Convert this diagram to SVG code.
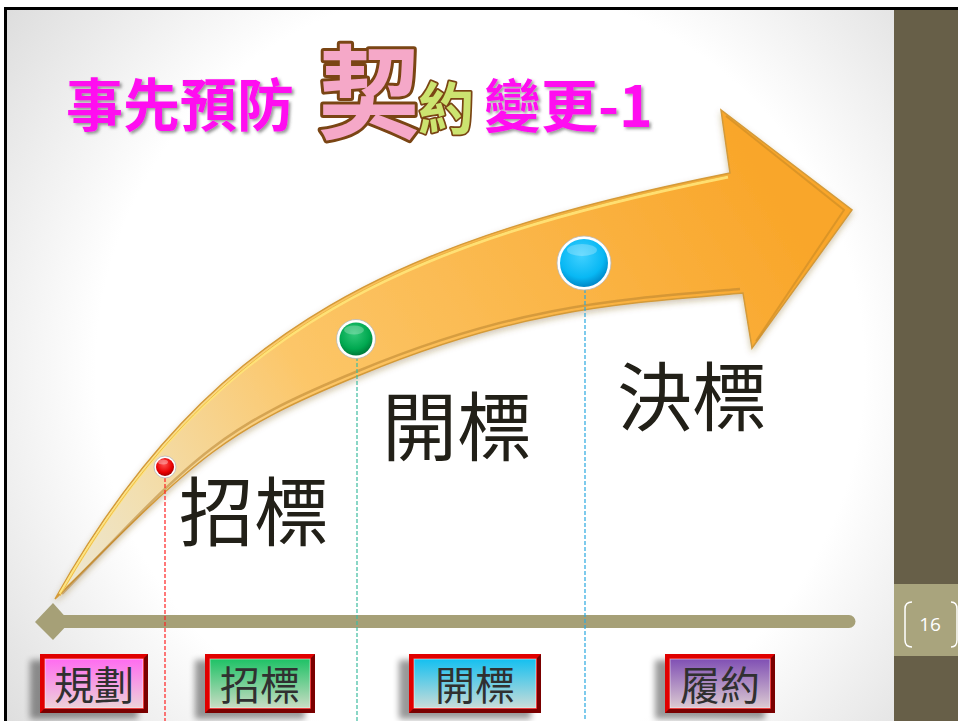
<svg xmlns="http://www.w3.org/2000/svg" width="958" height="721" viewBox="0 0 958 721">
<defs>
<radialGradient id="bg" cx="480" cy="370" r="640" gradientUnits="userSpaceOnUse">
<stop offset="0.6" stop-color="#ffffff"/><stop offset="1" stop-color="#d6d6d6"/>
</radialGradient>
<linearGradient id="arrowG" x1="60" y1="600" x2="760" y2="170" gradientUnits="userSpaceOnUse">
<stop offset="0" stop-color="#ebe7d6"/><stop offset="0.15" stop-color="#f2dfb0"/><stop offset="0.4" stop-color="#fcc668"/><stop offset="1" stop-color="#f9a62a"/>
</linearGradient>
<radialGradient id="gRed" cx="0.45" cy="0.35" r="0.65"><stop offset="0" stop-color="#ff5050"/><stop offset="0.7" stop-color="#e80000"/><stop offset="1" stop-color="#a00000"/></radialGradient>
<radialGradient id="gGreen" cx="0.45" cy="0.35" r="0.65"><stop offset="0" stop-color="#30c878"/><stop offset="0.7" stop-color="#00a850"/><stop offset="1" stop-color="#007a38"/></radialGradient>
<radialGradient id="gBlue" cx="0.45" cy="0.35" r="0.65"><stop offset="0" stop-color="#40d0ff"/><stop offset="0.7" stop-color="#08b8f4"/><stop offset="1" stop-color="#0088c8"/></radialGradient>
<linearGradient id="bPink" x1="0" y1="0" x2="0" y2="1"><stop offset="0" stop-color="#ff6cf0"/><stop offset="1" stop-color="#ecd2d8"/></linearGradient>
<linearGradient id="bGreen" x1="0" y1="0" x2="0" y2="1"><stop offset="0" stop-color="#1ec266"/><stop offset="1" stop-color="#cadcc4"/></linearGradient>
<linearGradient id="bCyan" x1="0" y1="0" x2="0" y2="1"><stop offset="0" stop-color="#14c0f0"/><stop offset="1" stop-color="#cadcd8"/></linearGradient>
<linearGradient id="bPurple" x1="0" y1="0" x2="0" y2="1"><stop offset="0" stop-color="#8050b4"/><stop offset="1" stop-color="#dccad2"/></linearGradient>
<filter id="blur" x="-20%" y="-20%" width="140%" height="140%"><feGaussianBlur stdDeviation="3"/></filter>
<filter id="tsh" x="-10%" y="-10%" width="130%" height="130%"><feDropShadow dx="2" dy="2" stdDeviation="1.5" flood-color="#555" flood-opacity="0.6"/></filter>
<filter id="ash" x="-10%" y="-10%" width="130%" height="130%"><feDropShadow dx="0" dy="3" stdDeviation="3" flood-color="#7a5a20" flood-opacity="0.35"/></filter>
<style>
.big{font-family:"Noto Sans CJK TC","Noto Sans CJK SC",sans-serif;font-weight:400;fill:#222018;font-size:75px}
.title{font-family:"Noto Sans CJK TC","Noto Sans CJK SC",sans-serif;font-weight:700;fill:#ff10f0}
.blabel{font-family:"Noto Sans CJK TC","Noto Sans CJK SC",sans-serif;font-weight:400;fill:#303030;font-size:40px;text-anchor:middle}
.dash{stroke-width:1.2;stroke-dasharray:4 2;fill:none}
.ring{fill:#ffffff;stroke:#b8b8b8;stroke-width:0.8}
.frame{fill:#e00000}
.frameD{fill:#7a0000}
.shadow{fill:#000;opacity:0.4;filter:url(#blur)}
</style>
</defs>
<rect x="0" y="0" width="958" height="721" fill="#ffffff"/>
<rect x="7" y="10" width="887" height="711" fill="url(#bg)"/>
<rect x="4" y="7" width="954" height="3" fill="#000"/>
<rect x="4" y="7" width="3" height="714" fill="#000"/>
<g id="sidepanel">
<rect x="894" y="10" width="64" height="711" fill="#675f48"/>
<rect x="894" y="584" width="64" height="72" fill="#a9a47d"/>
<path d="M912,602 Q905,602 905,609 L905,640 Q905,647 912,647" fill="none" stroke="#fff" stroke-width="1.5"/>
<path d="M951,602 Q957,602 957,609 L957,640 Q957,647 951,647" fill="none" stroke="#fff" stroke-width="1.5"/>
<text x="930" y="631" font-family="'Open Sans','Liberation Sans',sans-serif" font-size="19" fill="#ffffff" text-anchor="middle">16</text>
</g>
<g id="title">
<text class="title" x="66" y="126" font-size="57" filter="url(#tsh)">事先預防</text>
<text x="318" y="131" font-family="'Noto Sans CJK TC','Noto Sans CJK SC',sans-serif" font-weight="700" font-size="102" fill="#f5a8c8" stroke="#7a4514" stroke-width="6" paint-order="stroke" stroke-linejoin="round">契</text>
<text x="418" y="129" font-family="'Noto Sans CJK TC','Noto Sans CJK SC',sans-serif" font-weight="700" font-size="56" fill="#cce470" stroke="#7a4514" stroke-width="3.5" paint-order="stroke" stroke-linejoin="round">約</text>
<text class="title" x="484" y="127" font-size="57" filter="url(#tsh)">變更-1</text>
</g>
<g id="axis">
<line x1="60" y1="621.5" x2="849" y2="621.5" stroke="#a6a077" stroke-width="13" stroke-linecap="round"/>
<polygon points="35,622 53,603 70,622 53,640" fill="#a6a077"/>
</g>
<g id="arrow" filter="url(#ash)">
<path d="M55,599 C212,319 407,238 730,173 L721,110 L852,210 L752,348 L743,293 C613.5,303.9 517,310 360,375 C221,432 200,455 55,599 Z" fill="url(#arrowG)" stroke="#d49a38" stroke-width="1.5" stroke-linejoin="miter"/>
<path d="M60,594 C215,324 409,242 728,177" fill="none" stroke="#ffe478" stroke-width="3" opacity="0.9"/>
<path d="M60,596 C215,322 409,240 729,175" fill="none" stroke="#e8b040" stroke-width="1" opacity="0.8"/>
<path d="M740,289 C612,300 515,306 358,371 C219,428 198,452 62,594" fill="none" stroke="#b88430" stroke-width="2.5" opacity="0.55"/>
<path d="M726,116 L844,210 L756,341" fill="none" stroke="#c88a28" stroke-width="2" opacity="0.6"/>
</g>
<g id="connectors">
<line class="dash" x1="165" y1="478" x2="165" y2="721" stroke="#ff2020"/>
<line class="dash" x1="357" y1="357" x2="357" y2="721" stroke="#3cbca0"/>
<line class="dash" x1="585" y1="289" x2="585" y2="721" stroke="#28a8e0"/>
</g>
<g id="dot-red">
<circle class="ring" cx="165" cy="467" r="11"/>
<circle cx="165" cy="467" r="9" fill="url(#gRed)"/>
<ellipse cx="163" cy="462" rx="5" ry="2.5" fill="#fff" opacity="0.35"/>
</g>
<g id="dot-green">
<circle class="ring" cx="356" cy="339" r="19.5"/>
<circle cx="356" cy="339" r="16.5" fill="url(#gGreen)"/>
<ellipse cx="354" cy="330" rx="10" ry="4.5" fill="#fff" opacity="0.25"/>
</g>
<g id="dot-blue">
<circle class="ring" cx="584" cy="263" r="27"/>
<circle cx="584" cy="263" r="24" fill="url(#gBlue)"/>
<ellipse cx="582" cy="250" rx="15" ry="6" fill="#fff" opacity="0.25"/>
</g>
<g id="label-zhaobiao"><text class="big" x="179" y="540">招標</text></g>
<g id="label-kaibiao"><text class="big" x="382" y="455">開標</text></g>
<g id="label-juebiao"><text class="big" x="617" y="425">決標</text></g>
<g id="box-guihua">
<rect class="shadow" x="30" y="660" width="108" height="59"/>
<rect class="frame" x="40" y="654" width="108" height="59"/>
<path class="frameD" d="M148,654 L148,713 L40,713 L44,709 L144,709 L144,658 Z"/>
<rect x="45" y="659" width="98" height="49" fill="url(#bPink)" stroke="#ffffff" stroke-opacity="0.5" stroke-width="1"/>
<text class="blabel" x="94" y="700">規劃</text>
</g>
<g id="box-zhaobiao">
<rect class="shadow" x="195" y="660" width="110" height="59"/>
<rect class="frame" x="205" y="654" width="110" height="59"/>
<path class="frameD" d="M315,654 L315,713 L205,713 L209,709 L311,709 L311,658 Z"/>
<rect x="210" y="659" width="100" height="49" fill="url(#bGreen)" stroke="#ffffff" stroke-opacity="0.5" stroke-width="1"/>
<text class="blabel" x="260" y="700">招標</text>
</g>
<g id="box-kaibiao">
<rect class="shadow" x="399" y="660" width="132" height="59"/>
<rect class="frame" x="409" y="654" width="132" height="59"/>
<path class="frameD" d="M541,654 L541,713 L409,713 L413,709 L537,709 L537,658 Z"/>
<rect x="414" y="659" width="122" height="49" fill="url(#bCyan)" stroke="#ffffff" stroke-opacity="0.5" stroke-width="1"/>
<text class="blabel" x="475" y="700">開標</text>
</g>
<g id="box-lvyue">
<rect class="shadow" x="655" y="660" width="110" height="59"/>
<rect class="frame" x="665" y="654" width="110" height="59"/>
<path class="frameD" d="M775,654 L775,713 L665,713 L669,709 L771,709 L771,658 Z"/>
<rect x="670" y="659" width="100" height="49" fill="url(#bPurple)" stroke="#ffffff" stroke-opacity="0.5" stroke-width="1"/>
<text class="blabel" x="720" y="700">履約</text>
</g>
</svg>
